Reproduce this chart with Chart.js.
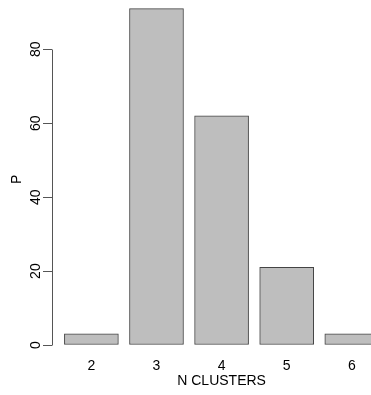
<!DOCTYPE html>
<html>
<head>
<meta charset="utf-8">
<script src="https://cdn.jsdelivr.net/npm/chart.js@4/dist/chart.umd.min.js"></script>
<style>
  html, body { margin: 0; padding: 0; background: #ffffff; }
  #wrap { width: 371px; height: 395px; overflow: hidden; }
  canvas { display: block; }
</style>
</head>
<body>
<div id="wrap"><canvas id="chart" width="371" height="395"></canvas></div>
<script>
// Number of clusters and the count P for each
const clusterCounts = [2, 3, 4, 5, 6];
const pValues = [3, 91, 62, 21, 3];
const yTickValues = [0, 20, 40, 60, 80];

const FONT = "'Liberation Sans', Arial, Helvetica, sans-serif";
const AXIS_COLOR = '#555555';
const X_TITLE = 'N CLUSTERS';

// x range of the plotting region (in cluster units); the region runs past the right edge
const X_MIN = 1.395;
const X_MAX = 6.295;
const X_CENTER = 4;

// R-style axis: line only between first and last tick, x title centred on the plot region
const axisExtrasPlugin = {
  id: 'axisExtras',
  afterDraw(chart) {
    const y = chart.scales.y;
    const xs = chart.scales.x;
    const ctx = chart.ctx;
    const x = Math.round(y.right - 0.5) + 0.5;
    const y0 = y.getPixelForValue(yTickValues[0]);
    const y1 = y.getPixelForValue(yTickValues[yTickValues.length - 1]);
    ctx.save();
    ctx.strokeStyle = AXIS_COLOR;
    ctx.lineWidth = 1;
    ctx.beginPath();
    ctx.moveTo(x, Math.round(y0 - 0.5) + 0.5);
    ctx.lineTo(x, Math.round(y1 - 0.5) + 0.5);
    ctx.stroke();

    ctx.fillStyle = '#000000';
    ctx.font = '14px ' + FONT;
    ctx.textAlign = 'center';
    ctx.textBaseline = 'middle';
    ctx.fillText(X_TITLE, xs.getPixelForValue(X_CENTER), 381.5);
    ctx.restore();
  }
};

// fixed axis sizes, no extra room reserved for overhanging labels
function fixSize(prop, value) {
  return scale => {
    scale[prop] = value;
    scale.paddingTop = 0;
    scale.paddingBottom = 0;
    scale.paddingLeft = 0;
    scale.paddingRight = 0;
  };
}

new Chart(document.getElementById('chart'), {
  type: 'bar',
  data: {
    datasets: [{
      data: clusterCounts.map((c, i) => ({ x: c, y: pValues[i] })),
      backgroundColor: '#bebebe',
      borderColor: '#444444',
      borderWidth: 1,
      borderSkipped: false,
      barThickness: 54
    }]
  },
  options: {
    responsive: false,
    animation: false,
    events: [],
    layout: { padding: 0 },
    plugins: { legend: { display: false }, tooltip: { enabled: false } },
    scales: {
      x: {
        type: 'linear',
        min: X_MIN,
        max: X_MAX,
        offset: false,
        afterBuildTicks(scale) { scale.ticks = clusterCounts.map(v => ({ value: v })); },
        afterFit: fixSize('height', 36.5),
        grid: { display: false, drawTicks: false },
        border: { display: false },
        ticks: {
          color: '#000000',
          font: { family: FONT, size: 14 },
          padding: -1,
          maxRotation: 0,
          minRotation: 0,
          callback: v => String(v)
        }
      },
      y: {
        min: -3.64,
        max: 93.33,
        afterBuildTicks(scale) { scale.ticks = yTickValues.map(v => ({ value: v })); },
        afterFit: fixSize('width', 52),
        grid: {
          drawOnChartArea: false,
          drawTicks: true,
          tickLength: 9,
          color: AXIS_COLOR,
          lineWidth: 1
        },
        border: { display: false },
        ticks: {
          color: '#000000',
          font: { family: FONT, size: 14 },
          minRotation: 90,
          maxRotation: 90,
          crossAlign: 'center',
          padding: -1
        },
        title: {
          display: true,
          text: 'P',
          color: '#000000',
          font: { family: FONT, size: 14 },
          padding: { top: 8.6, bottom: 8.6 }
        }
      }
    }
  },
  plugins: [axisExtrasPlugin]
});
</script>
</body>
</html>
